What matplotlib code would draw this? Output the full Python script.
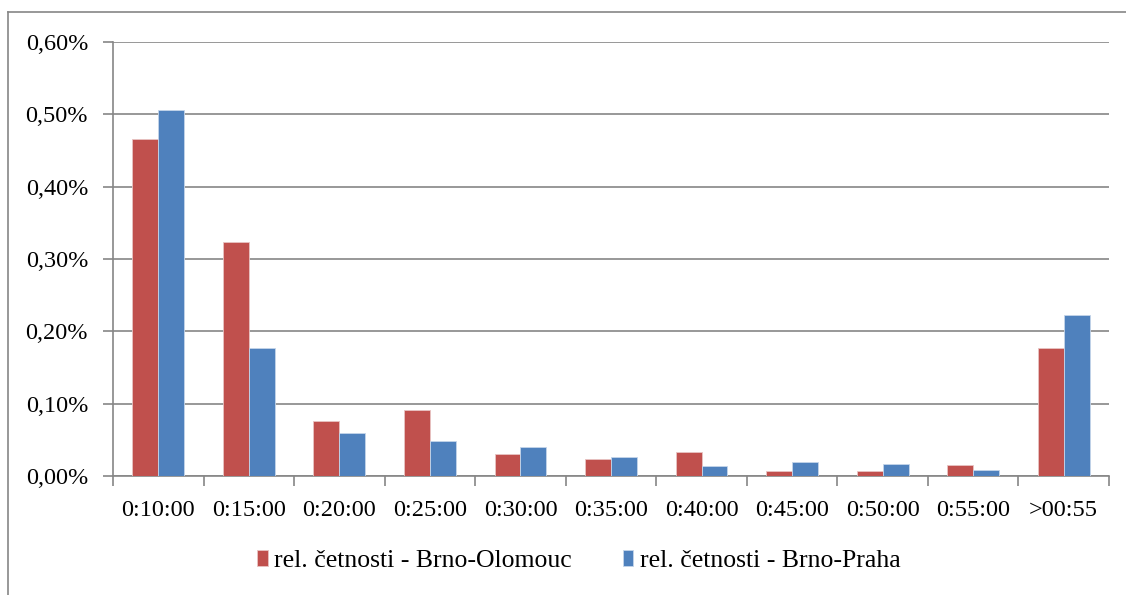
import matplotlib
matplotlib.use("Agg")
import matplotlib.pyplot as plt
from matplotlib.lines import Line2D
from matplotlib.ticker import FuncFormatter, FixedLocator
import numpy as np

# Interval categories (time to next connection)
categories = ["0:10:00", "0:15:00", "0:20:00", "0:25:00", "0:30:00", "0:35:00",
              "0:40:00", "0:45:00", "0:50:00", "0:55:00", ">00:55"]

# Relative frequencies in percent
brno_olomouc = [0.466, 0.3235, 0.076, 0.091, 0.030, 0.024, 0.033, 0.0065, 0.007, 0.0148, 0.1765]
brno_praha = [0.506, 0.177, 0.0595, 0.049, 0.0405, 0.026, 0.014, 0.020, 0.016, 0.008, 0.223]

series_names = ["rel. četnosti - Brno-Olomouc", "rel. četnosti - Brno-Praha"]
colors = ["#C0504D", "#4F81BD"]
grid_color = "#868686"

plt.rcParams["font.family"] = ["Liberation Serif", "DejaVu Serif"]

fig = plt.figure(figsize=(11.26, 5.95), dpi=100)
ax = fig.add_axes([113 / 1126, 1 - 476 / 595, (1109 - 113) / 1126, (476 - 42) / 595])

x = np.arange(len(categories))
width = 1 / 3.5  # gap width 150 %
ax.bar(x - width / 2, brno_olomouc, width, color=colors[0], edgecolor="#E8C4C3",
       linewidth=0.6, label=series_names[0], zorder=3)
ax.bar(x + width / 2, brno_praha, width, color=colors[1], edgecolor="#C5D5EA",
       linewidth=0.6, label=series_names[1], zorder=3)

ax.set_xlim(-0.5, len(categories) - 0.5)
ax.set_ylim(0, 0.6)
ax.set_yticks(np.arange(0, 0.61, 0.1))
ax.yaxis.set_major_formatter(FuncFormatter(lambda v, p: f"{v:.2f}%".replace(".", ",")))

ax.set_xticks(x)
ax.set_xticklabels(categories)
ax.xaxis.set_minor_locator(FixedLocator(np.arange(-0.5, len(categories), 1.0)))
ax.tick_params(axis="x", which="major", length=0, pad=17, labelsize=17.5)
ax.tick_params(axis="x", which="minor", length=7, width=1.2, color=grid_color, direction="out")
ax.tick_params(axis="y", length=7, width=1.2, color=grid_color, pad=11, labelsize=17.5)

ax.yaxis.grid(True, color=grid_color, linewidth=1.2, zorder=0)
ax.set_axisbelow(True)
for side in ("top", "right"):
    ax.spines[side].set_visible(False)
for side in ("left", "bottom"):
    ax.spines[side].set_color(grid_color)
    ax.spines[side].set_linewidth(1.2)

# Outer chart frame
fig.add_artist(Line2D([8 / 1126, 8 / 1126], [0, 1 - 12 / 595], transform=fig.transFigure,
                      color=grid_color, linewidth=1.2))
fig.add_artist(Line2D([8 / 1126, 1], [1 - 12 / 595, 1 - 12 / 595], transform=fig.transFigure,
                      color=grid_color, linewidth=1.2))

fig.legend(loc="center", bbox_to_anchor=(579 / 1126, 1 - 561 / 595), ncol=2, frameon=False,
           fontsize=18.5, handlelength=0.4, handleheight=0.6, handletextpad=0.25,
           columnspacing=2.0)

fig.savefig("out.png", dpi=100, facecolor="white")
